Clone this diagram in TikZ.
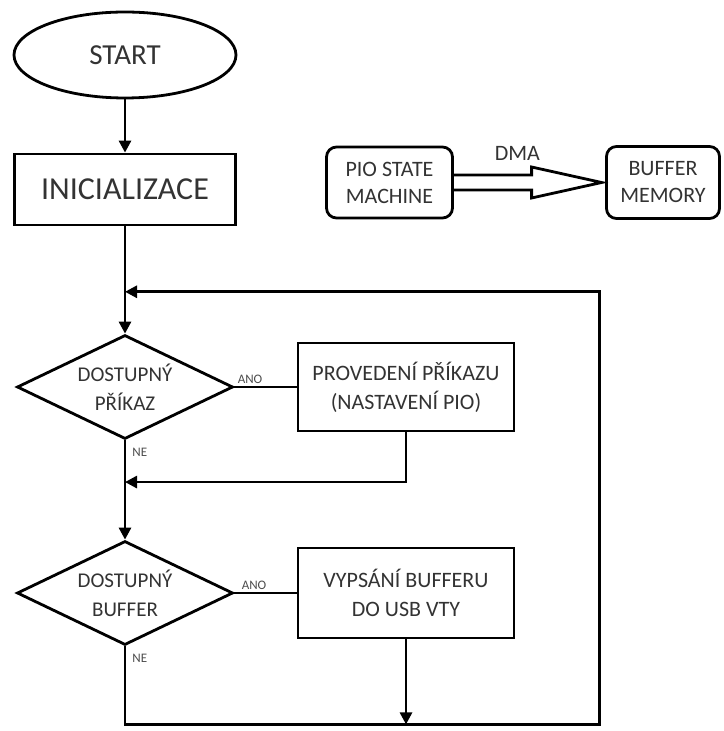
\documentclass[tikz,border=0pt]{standalone}
\usepackage{fontspec}
\setmainfont{Carlito}
\usepackage{tikz}
\usetikzlibrary{arrows.meta, positioning, shapes.geometric, calc}

\begin{document}
\begin{tikzpicture}[
  line width=1.4pt,
  terminal/.style={draw, ellipse, minimum width=111pt, minimum height=43pt, inner sep=0pt, font=\fontsize{14.5}{16}\selectfont, text=black!80},
  box/.style={draw, minimum width=110.5pt, minimum height=35.5pt, align=center, font=\fontsize{16}{18}\selectfont, text=black!80},
  cmdbox/.style={draw, minimum width=108pt, minimum height=44pt, inner sep=0pt, align=center, font=\fontsize{11}{14.5}\selectfont, text=black!80},
  roundbox/.style={draw, rounded corners=5pt, minimum height=35.5pt, inner sep=0pt, align=center, font=\fontsize{11}{13.5}\selectfont, text=black!80},
  decision/.style={draw, diamond, aspect=2, minimum width=108pt, minimum height=52pt, inner sep=0pt, align=center, font=\fontsize{10.5}{14.5}\selectfont, text=black!80},
  lbl/.style={font=\fontsize{6.5}{7}\selectfont, text=black!70, inner sep=1pt},
  arr/.style={-{Triangle[length=6pt, width=6pt]}}
]
  \useasboundingbox (-62.5pt,-338pt) rectangle (299pt,27.5pt);

  % main flow
  \node[terminal] (start) {START};
  \node[box, below=26.6pt of start] (init) {INICIALIZACE};
  \node[decision, below=53.6pt of init] (cmd) {DOSTUPNÝ\\PŘÍKAZ};
  \node[cmdbox, right=31.1pt of cmd] (exec) {PROVEDENÍ PŘÍKAZU\\(NASTAVENÍ PIO)};
  \node[decision, below=49.6pt of cmd] (bufq) {DOSTUPNÝ\\BUFFER};
  \node[cmdbox, right=31.1pt of bufq, minimum height=45pt] (print) {VYPSÁNÍ BUFFERU\\DO USB VTY};

  % DMA side
  \node[roundbox, right=44.1pt of init, yshift=3.5pt, minimum width=63pt] (pio) {PIO STATE\\MACHINE};
  \node[roundbox, right=75.6pt of pio, minimum width=56.5pt, minimum height=36pt] (buf) {BUFFER\\MEMORY};

  \coordinate (join1) at ($(init.south)!0.61!(cmd.north)$);
  \coordinate (join2) at ($(cmd.south)!0.42!(bufq.north)$);
  \coordinate (bot) at ([yshift=-39pt]bufq.south);
  \coordinate (corner) at ($(print.east |- bot)+(42pt,0)$);

  \draw[arr] (start) -- (init);
  \draw[arr] (init) -- (cmd);
  \draw (cmd.east) -- node[lbl, pos=0, anchor=south west] {ANO} (exec.west);
  \draw[arr] (exec.south) |- (join2);
  \draw[arr] (cmd.south) -- node[lbl, pos=0, anchor=north west, xshift=2pt, yshift=-2pt] {NE} (bufq.north);
  \draw (bufq.east) -- node[lbl, pos=0, anchor=south west, xshift=2pt] {ANO} (print.west);
  \draw[arr] (print.south) -- (print.south |- bot);
  \draw[arr] (bufq.south) -- node[lbl, pos=0, anchor=north west, xshift=2pt, yshift=-2pt] {NE} (bot) -- (corner) |- (join1);

  % hollow DMA arrow
  \draw[line join=miter] let \p1 = (pio.east), \p2 = (buf.west) in
    (\x1,\y1+3.75pt) -- (\x2-36.75pt,\y1+3.75pt) -- (\x2-36.75pt,\y1+7.75pt) -- (\x2-1.75pt,\y1)
    -- (\x2-36.75pt,\y1-7.75pt) -- (\x2-36.75pt,\y1-3.75pt) -- (\x1,\y1-3.75pt);
  \node[font=\fontsize{11}{13}\selectfont, text=black!80, yshift=14.5pt] (dma) at ($(pio.east)!0.42!(buf.west)$) {DMA};
\end{tikzpicture}
\end{document}
